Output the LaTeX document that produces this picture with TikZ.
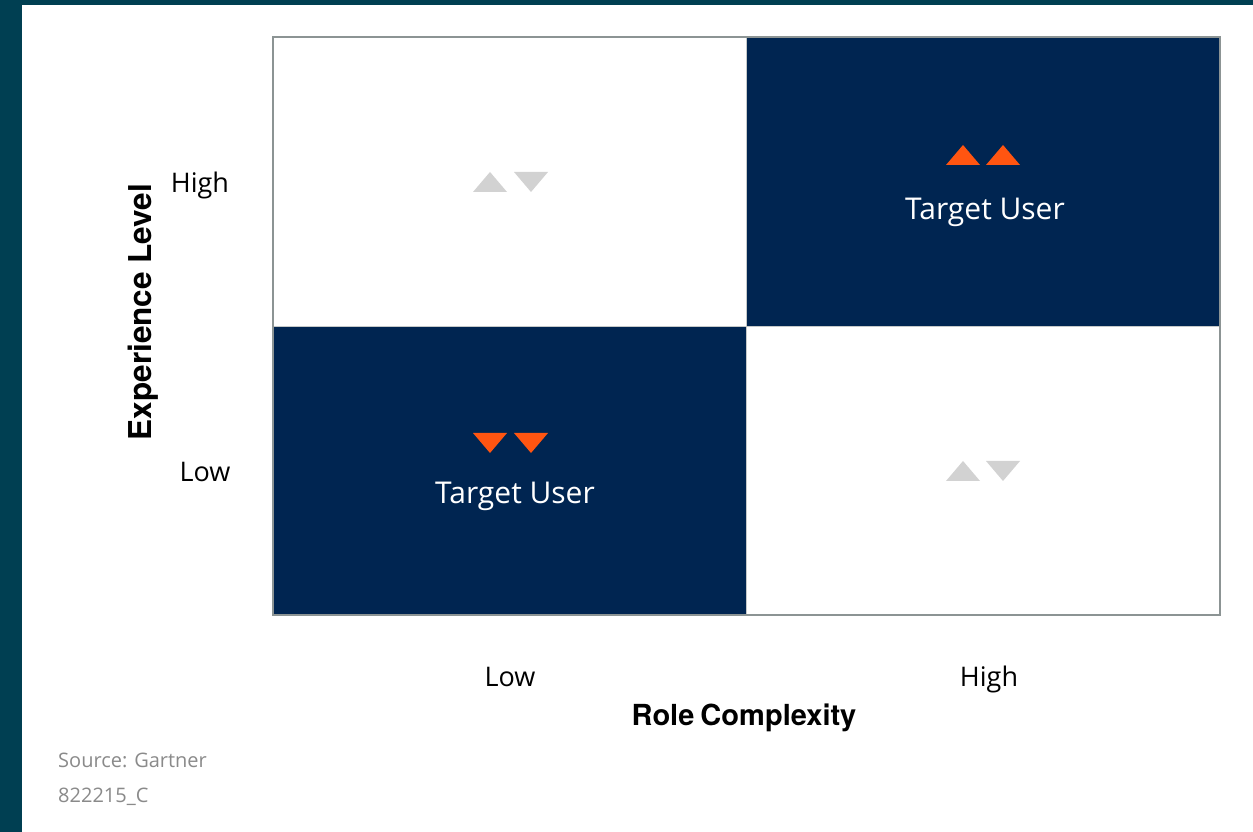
\documentclass[tikz,border=0pt]{standalone}
\usepackage{fontspec}
\setmainfont{Open Sans}
\newfontfamily\titulo{TeX Gyre Heros}
\usetikzlibrary{positioning}

\definecolor{petroleo}{HTML}{003F52}
\definecolor{azul}{HTML}{002551}
\definecolor{naranja}{HTML}{FF5511}
\definecolor{grisclaro}{HTML}{D2D2D2}
\definecolor{borde}{HTML}{8C9494}
\definecolor{gristexto}{HTML}{8A8A8A}

\tikzset{
  celda/.style={minimum width=473.5pt, minimum height=289pt, inner sep=0pt,
    outer sep=0pt, draw=borde!50, line width=0.8pt},
  etiqueta/.style={font=\fontsize{27}{32}\selectfont, inner sep=0pt},
  eje/.style={font=\titulo\bfseries\fontsize{29}{33}\selectfont, inner sep=0pt},
  usuario/.style={font=\fontsize{30}{36}\selectfont, text=white, inner sep=0pt},
  fuente/.style={font=\fontsize{20}{24}\selectfont, text=gristexto, anchor=west, inner sep=0pt},
  sube/.pic={\fill (-17,-10) -- (17,-10) -- (0,10) -- cycle;},
  baja/.pic={\fill (-17,10) -- (17,10) -- (0,-10) -- cycle;},
}

\begin{document}
\begin{tikzpicture}[x=1pt, y=1pt]
        % Paso 1: Fondo con la franja de color a la izquierda y arriba
        \useasboundingbox (0,0) rectangle (1253,832);
        \fill[petroleo] (0,0) rectangle (1253,832);
        \fill[white] (22,0) rectangle (1253,827);

        % Paso 2: Las cuatro celdas de la matriz
        \node[celda, anchor=north west] (ai) at (273,795) {};
        \node[celda, fill=azul, right=0pt of ai] (ad) {};
        \node[celda, fill=azul, below=0pt of ai] (bi) {};
        \node[celda, right=0pt of bi] (bd) {};

        % Paso 3: Marco exterior
        \draw[borde, line width=2pt] (ai.north west) rectangle (bd.south east);

        % Paso 4: Triángulos de cada celda
        \pic[fill=grisclaro] at (490,650) {sube};
        \pic[fill=grisclaro] at (531,650) {baja};
        \pic[fill=naranja] at (963,677) {sube};
        \pic[fill=naranja] at (1003,677) {sube};
        \pic[fill=naranja] at (490,389) {baja};
        \pic[fill=naranja] at (531,389) {baja};
        \pic[fill=grisclaro] at (963,361) {sube};
        \pic[fill=grisclaro] at (1003,361) {baja};

        % Paso 5: Texto de las celdas oscuras
        \node[usuario] (uad) at (985,620) {Target User};
        \node[usuario] (ubi) at (515,336) {Target User};

        % Paso 6: Etiquetas de los ejes
        \node[etiqueta] (yalto) at (200,647) {High};
        \node[etiqueta] (ybajo) at (205,360) {Low};
        \node[etiqueta] (xbajo) at (510,155) {Low};
        \node[etiqueta] (xalto) at (989,153) {High};
        \node[eje] (xtit) at (744,114) {Role\hspace{-2pt} Complexity};
        \node[eje, rotate=90, font=\titulo\bfseries\fontsize{31.5}{36}\selectfont]
          (ytit) at (143,520) {Experience Level};

        % Paso 7: Fuente
        \node[fuente] (src) at (58,72) {Source: Gartner};
        \node[fuente] (cod) at (58,35) {822215\_C};
\end{tikzpicture}
\end{document}
